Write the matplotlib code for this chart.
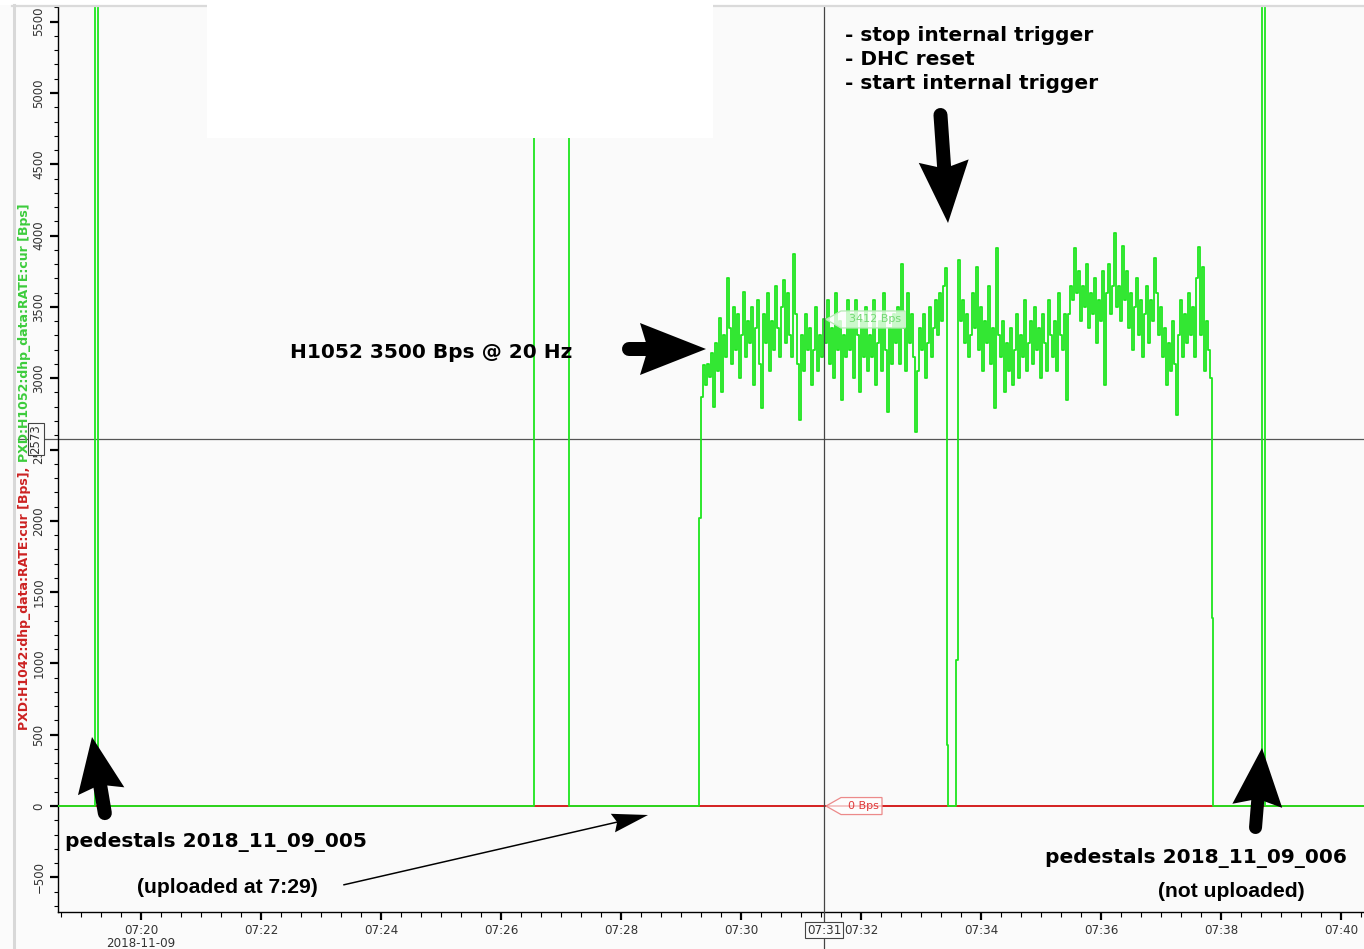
import numpy as np
import matplotlib
matplotlib.use('Agg')
import matplotlib.pyplot as plt
import matplotlib.dates as mdates
from matplotlib.ticker import MultipleLocator, FuncFormatter
from matplotlib.lines import Line2D
from matplotlib.patches import Polygon, Rectangle
from matplotlib.transforms import IdentityTransform, ScaledTranslation

W, H = 1364, 949
DAY = '2018-11-09T'

# PXD:H1052:dhp_data:RATE:cur [Bps] -- step values, pedestal pulses run off scale
h1052_t = ['07:18:37', '07:19:14', '07:19:17', '07:26:33', '07:27:08', '07:29:18']
h1052_v = [0, 6000, 0, 6000, 0, 2020]

# internal trigger @ 20 Hz, one sample every 2 s
run1_start = '07:29:20'
run1_v = [2870, 3095, 2950, 3100, 3010, 3180,
          2800, 3250, 3050, 3420, 2900, 3300, 3150, 3705,
          3350, 3100, 3500, 3200, 3450, 3000, 3300, 3607, 3150, 3400,
          3250, 3500, 2950, 3350, 3550, 3100, 2790, 3450, 3250, 3600,
          3050, 3400, 3200, 3650, 3350, 3150, 3500, 3690, 3250, 3600, 3300,
          3150, 3873, 3450, 3100, 2710, 3300, 3050, 3450, 3200,
          3350, 2950, 3200, 3500, 3050, 3300, 3150, 3412,
          3250, 3550, 3100, 3350, 3000, 3600, 3200, 3400, 2850, 3300, 3150, 3550,
          3200, 3450, 3000, 3550, 3300, 2900, 3400, 3150, 3500, 3050,
          3300, 3150, 3550, 2950, 3250, 3400, 3050, 3600, 3200, 2765, 3350, 3100, 3450,
          3250, 3500, 3100, 3800, 3350, 3050, 3600, 3250, 3450, 3150,
          2620, 3050, 3350, 3200, 3450, 3000, 3250, 3500, 3150, 3350, 3550, 3300,
          3600, 3400, 3650, 3775]

# stop internal trigger / DHC reset / start internal trigger
reset_t = ['07:33:26', '07:33:27', '07:33:35']
reset_v = [430, 0, 1025]

run2_start = '07:33:37'
run2_v = [3830, 3400, 3550, 3250, 3450, 3150, 3300, 3600, 3350, 3780, 3200, 3500,
          3050, 3400, 3250, 3650, 3100, 3350, 2790, 3910, 3300,
          3150, 3400, 2900, 3250, 3050, 3350, 2950, 3200, 3450, 3000, 3300, 3150,
          3550, 3050, 3250, 3400,
          3100, 3500, 3200, 3350, 3000, 3450, 3250, 3050, 3550, 3300, 3150, 3400,
          3050, 3600, 3300, 3200, 3450, 2850,
          3450, 3650, 3550, 3910, 3600, 3750, 3400, 3650, 3500, 3800, 3350, 3600,
          3450, 3700, 3250, 3550, 3400, 3750, 2950, 3600, 3800, 3450, 3650, 4020, 3500,
          3650, 3400, 3930, 3550, 3750, 3350, 3600, 3200, 3500, 3700, 3300, 3550,
          3150, 3450, 3650, 3250, 3550, 3400, 3840, 3600, 3300, 3500,
          3150, 3350, 2950, 3250, 3050, 3400, 3100, 2740, 3300, 3550, 3150, 3450,
          3250, 3600, 3300, 3500, 3150, 3700, 3920, 3300, 3780, 3050, 3400, 3200, 3000]

end_t = ['07:37:51', '07:37:52', '07:38:41', '07:38:44', '07:40:23']
end_v = [1320, 0, 6000, 0, 0]

# PXD:H1042:dhp_data:RATE:cur [Bps]
h1042_t = ['07:18:37', '07:40:23']
h1042_v = [0, 0]

# cursor readout
cursor_t = '07:31:23'
cursor_v = 2573
tag_h1052 = 3412
tag_h1042 = 0

GREEN = '#1ee61e'
RED = '#d42020'


def ts(hms):
    return np.datetime64(DAY + hms)


def sampled(start, vals, step=2):
    return ts(start) + np.arange(len(vals)) * np.timedelta64(step, 's')


def fpx(p):
    # pixel (from top-left) -> figure fraction
    return (p[0] / W, 1 - p[1] / H)


green_t = np.concatenate([np.array([ts(t) for t in h1052_t]),
                          sampled(run1_start, run1_v),
                          np.array([ts(t) for t in reset_t]),
                          sampled(run2_start, run2_v),
                          np.array([ts(t) for t in end_t])])
green_v = np.concatenate([h1052_v, run1_v, reset_v, run2_v, end_v])
red_t = np.array([ts(t) for t in h1042_t])

fig = plt.figure(figsize=(W / 100, H / 100), dpi=100, facecolor='#fbfbfb')
ax = fig.add_axes([58 / W, 1 - 912 / H, 1 - 58 / W, (912 - 6) / H])
ax.set_facecolor('#fafafa')

ax.plot(red_t, h1042_v, color=RED, lw=1.4, drawstyle='steps-post', zorder=2)
ax.plot(green_t, green_v, color=GREEN, lw=1.3, drawstyle='steps-post', zorder=3)

xmin, xmax = ts('07:18:37'), ts('07:40:23')
ax.set_xlim(xmin, xmax)
ax.set_ylim(-743, 5610)

for s in ['top', 'right']:
    ax.spines[s].set_visible(False)
for s in ['left', 'bottom']:
    ax.spines[s].set_color('black')
    ax.spines[s].set_linewidth(1)

# y axis
ax.yaxis.set_major_locator(MultipleLocator(500))
ax.yaxis.set_minor_locator(MultipleLocator(100))
ax.tick_params(axis='y', which='major', length=6, width=1.6, labelsize=8.5,
               labelcolor='#333', labelrotation=90, pad=3)
ax.tick_params(axis='y', which='minor', length=3, width=0.8)
plt.setp(ax.get_yticklabels(), va='center')

# x axis
x0num = mdates.date2num(xmin)


def fmt_time(x, pos):
    dt = mdates.num2date(x)
    s = dt.strftime('%H:%M')
    if x - x0num < 2 / 1440:   # first label carries the date
        s += '\n' + dt.strftime('%Y-%m-%d')
    return s


ax.xaxis.set_major_locator(mdates.MinuteLocator(byminute=range(0, 60, 2)))
ax.xaxis.set_minor_locator(mdates.SecondLocator(bysecond=[0, 20, 40]))
ax.xaxis.set_major_formatter(FuncFormatter(fmt_time))
ax.tick_params(axis='x', which='major', length=6, width=1.6, labelsize=8.6,
               labelcolor='#333', pad=3)
ax.tick_params(axis='x', which='minor', length=3.5, width=0.8)
plt.setp(ax.xaxis.get_majorticklabels(), linespacing=0.95)

# two-colour axis label
ax.text(*fpx((25, 730)), 'PXD:H1042:dhp_data:RATE:cur [Bps],', transform=fig.transFigure,
        rotation=90, color='#cc2222', fontsize=9, fontweight='bold', ha='center', va='bottom')
ax.text(*fpx((25, 462)), 'PXD:H1052:dhp_data:RATE:cur [Bps]', transform=fig.transFigure,
        rotation=90, color='#3ccc3c', fontsize=9, fontweight='bold', ha='center', va='bottom')

# cursor cross
ct = ts(cursor_t)
ax.axvline(ct, ymin=-0.041, ymax=1, color='#444', lw=0.9, clip_on=False, zorder=4)
ax.axhline(cursor_v, xmin=-0.031, xmax=1, color='#555', lw=0.9, clip_on=False, zorder=2.5)
ax.text(-0.0168, cursor_v, f'{cursor_v}', transform=ax.get_yaxis_transform(), rotation=90,
        ha='center', va='center', fontsize=8.5, color='#333', zorder=6,
        bbox=dict(boxstyle='square,pad=0.12', fc='#fafafa', ec='#444', lw=0.8))
ax.text(ct, -0.0199, mdates.num2date(mdates.date2num(ct)).strftime('%H:%M'),
        transform=ax.get_xaxis_transform(), ha='center', va='center', fontsize=8.6,
        color='#333', zorder=6,
        bbox=dict(boxstyle='square,pad=0.12', fc='#fafafa', ec='#444', lw=0.8))


def value_tag(t, v, text, tcolor, ecolor, width):
    tr = IdentityTransform() + ScaledTranslation(mdates.date2num(t), v, ax.transData)
    verts = [(2, 0), (17, 8.5), (width, 8.5), (width, -8.5), (17, -8.5)]
    ax.add_patch(Polygon(verts, closed=True, transform=tr, fc=(1, 1, 1, 0.75),
                         ec=ecolor, lw=0.9, zorder=5))
    ax.annotate(text, xy=(t, v), xytext=((17 + width) / 2 + 2, 0), textcoords='offset pixels',
                ha='center', va='center', fontsize=8, color=tcolor, zorder=6)


value_tag(ct, tag_h1052, f'{tag_h1052} Bps', '#74d874', '#b4eab4', 81)
value_tag(ct, tag_h1042, f'{tag_h1042} Bps', '#e03a3a', '#ec8a8a', 58)


def fat_arrow(tail, tip, head_len, head_w, shaft_w):
    tail = np.array(tail, float)
    tip = np.array(tip, float)
    d = tip - tail
    d /= np.hypot(*d)
    n = np.array([-d[1], d[0]])
    base = tip - d * head_len
    head = [tip, base + n * head_w / 2, base + d * head_len * 0.12,
            base - n * head_w / 2]
    fig.add_artist(Polygon([fpx(p) for p in head], closed=True, transform=fig.transFigure,
                           fc='black', ec='none', zorder=8))
    start = tail + d * shaft_w / 2
    end = base + d * (head_len * 0.15)
    xs, ys = zip(fpx(start), fpx(end))
    fig.add_artist(Line2D(xs, ys, transform=fig.transFigure, color='black',
                          lw=shaft_w * 0.72, solid_capstyle='round', zorder=8))


fat_arrow((106, 820), (92, 737), 55, 47, 14)
fat_arrow((622, 349), (706, 349), 66, 52, 14)
fat_arrow((940, 108), (948, 223), 62, 50, 14)
fat_arrow((1255, 834), (1262, 748), 58, 50, 13)
fat_arrow((343, 885), (648, 815), 36, 19, 1.5)

# notes
bold = dict(fontsize=14.5, fontweight='bold', color='black', ha='left', va='baseline',
            family='DejaVu Sans', zorder=9)
fig.text(*fpx((65, 847)), 'pedestals 2018_11_09_005', **bold)
fig.text(*fpx((1045, 863)), 'pedestals 2018_11_09_006', **bold)
fig.text(*fpx((290, 358)), 'H1052 3500 Bps @ 20 Hz', **bold)
fig.text(*fpx((845, 41)), '- stop internal trigger', **bold)
fig.text(*fpx((845, 65)), '- DHC reset', **bold)
fig.text(*fpx((845, 89)), '- start internal trigger', **bold)
arial = dict(fontsize=15.2, fontweight='bold', color='black', ha='left', va='baseline',
             family='Liberation Sans', zorder=9)
fig.text(*fpx((137, 893)), '(uploaded at 7:29)', **arial)
fig.text(*fpx((1158, 897)), '(not uploaded)', **arial)

# window frame and the blank panel over the top of the plot
fig.add_artist(Rectangle((0, 1 - 5 / H), 1, 5 / H, transform=fig.transFigure,
                         fc='white', ec='none', zorder=10))
fig.add_artist(Line2D([12 / W, 1], [1 - 6 / H] * 2, transform=fig.transFigure,
                      color='#dadada', lw=1.6, zorder=10))
fig.add_artist(Line2D([13.5 / W] * 2, [0, 1 - 5 / H], transform=fig.transFigure,
                      color='#d8d8d8', lw=2.2, zorder=10))
fig.add_artist(Rectangle(fpx((207, 138)), (713 - 207) / W, 138 / H, transform=fig.transFigure,
                         fc='white', ec='none', zorder=11))

fig.savefig('out.png', dpi=100, facecolor=fig.get_facecolor())
